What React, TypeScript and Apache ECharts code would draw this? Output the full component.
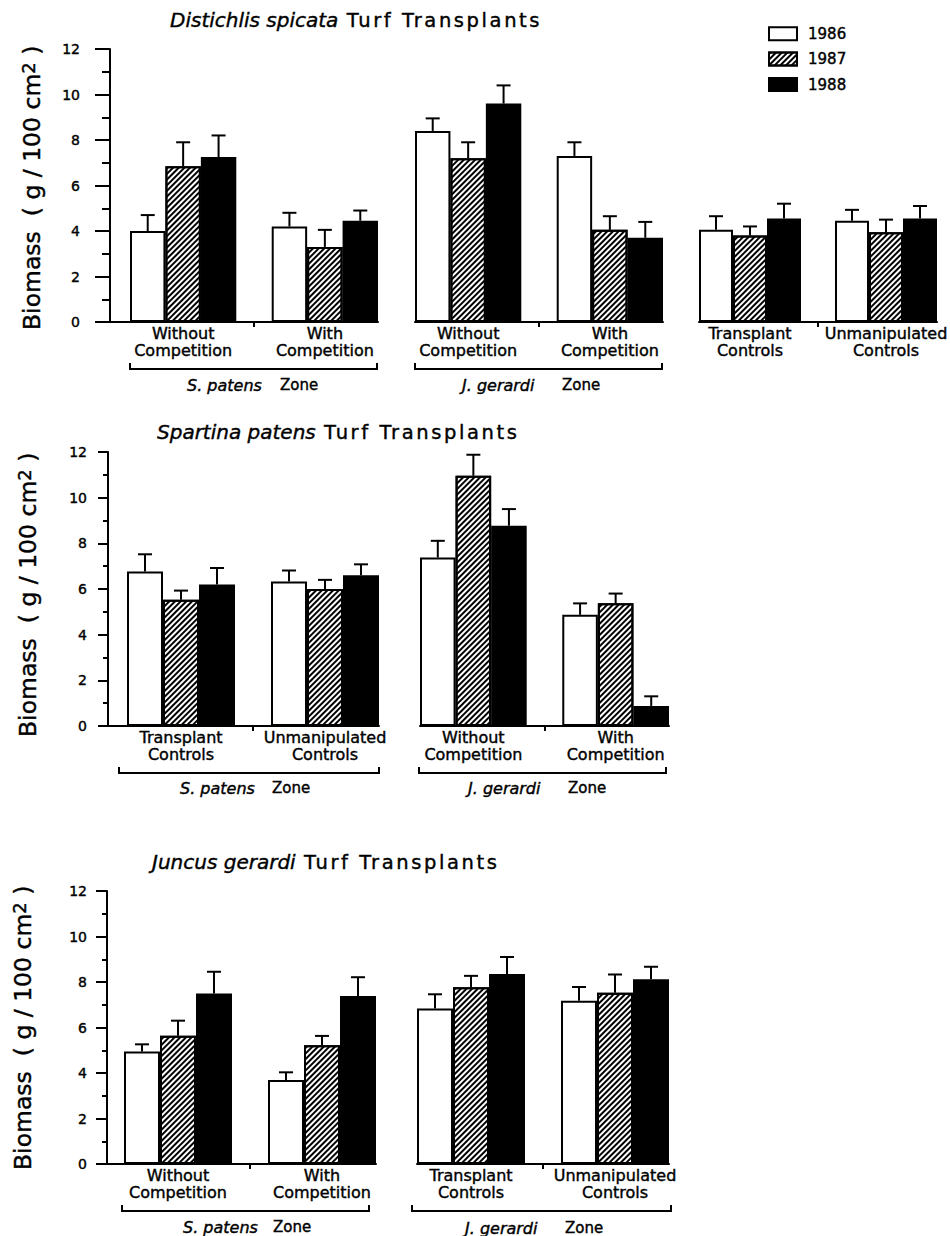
import React, { useEffect, useRef } from 'react';
import * as echarts from 'echarts';

// ---------------- DATA ----------------
const YEARS = ['1986', '1987', '1988'];
const Y_AXIS_TICKS = [0, 2, 4, 6, 8, 10, 12];

const CMP = ['Without\nCompetition', 'With\nCompetition'];
const CTL = ['Transplant\nControls', 'Unmanipulated\nControls'];

// Panel 1: Distichlis spicata (clusters: S.patens W/o, With | J.gerardi W/o, With | Transplant, Unmanipulated)
const P1_SPECIES = 'Distichlis spicata';
const P1_GROUP_LABELS = [CMP, CMP, CTL];
const P1_ZONES = ['S. patens', 'J. gerardi'];
const P1_1986 = [4.0, 4.2, 8.4, 7.3, 4.05, 4.45];
const P1_1987 = [6.85, 3.3, 7.2, 4.05, 3.8, 3.95];
const P1_1988 = [7.25, 4.45, 9.6, 3.7, 4.55, 4.55];
const P1_SE_1986 = [0.7, 0.6, 0.55, 0.6, 0.6, 0.48];
const P1_SE_1987 = [1.05, 0.75, 0.7, 0.6, 0.4, 0.55];
const P1_SE_1988 = [0.95, 0.45, 0.8, 0.7, 0.65, 0.55];

// Panel 2: Spartina patens (clusters: S.patens Transplant, Unmanipulated | J.gerardi W/o, With)
const P2_SPECIES = 'Spartina patens';
const P2_GROUP_LABELS = [CTL, CMP];
const P2_ZONES = ['S. patens', 'J. gerardi'];
const P2_1986 = [6.77, 6.33, 7.38, 4.87];
const P2_1987 = [5.53, 6.0, 10.96, 5.38];
const P2_1988 = [6.2, 6.6, 8.77, 0.88];
const P2_SE_1986 = [0.75, 0.48, 0.73, 0.5];
const P2_SE_1987 = [0.4, 0.4, 0.92, 0.42];
const P2_SE_1988 = [0.72, 0.48, 0.73, 0.42];

// Panel 3: Juncus gerardi (clusters: S.patens W/o, With | J.gerardi Transplant, Unmanipulated)
const P3_SPECIES = 'Juncus gerardi';
const P3_GROUP_LABELS = [CMP, CTL];
const P3_ZONES = ['S. patens', 'J. gerardi'];
const P3_1986 = [4.94, 3.69, 6.84, 7.18];
const P3_1987 = [5.64, 5.22, 7.77, 7.53];
const P3_1988 = [7.5, 7.38, 8.35, 8.12];
const P3_SE_1986 = [0.32, 0.34, 0.62, 0.6];
const P3_SE_1987 = [0.66, 0.41, 0.5, 0.8];
const P3_SE_1988 = [0.95, 0.83, 0.75, 0.55];

// ---------------- LAYOUT / STYLE ----------------
const FONT = 'DejaVu Sans';
const BLACK = '#000';
// slight thickening of text strokes (axis / legend labels)
const BOLDEN = { textBorderColor: BLACK, textBorderWidth: 0.4 };
// same for zrender graphic texts
const GBOLD = { stroke: BLACK, lineWidth: 0.4 };

const PANELS = [
  {
    species: P1_SPECIES, groupLabels: P1_GROUP_LABELS, zones: P1_ZONES,
    means: [P1_1986, P1_1987, P1_1988], ses: [P1_SE_1986, P1_SE_1987, P1_SE_1988],
    layout: {
      axisX: 110, top: 49, zero: 322, groups: [[130, 378], [415, 663], [699, 948]],
      tickLen: 15, minorLen: 8, labelMargin: 30,
      name: [32, 330], title: [170, 20],
      brackets: [[130, 377, 369], [415, 662, 369]],
      zoneText: [[187, 280, 385], [462, 562, 385]],
    },
  },
  {
    species: P2_SPECIES, groupLabels: P2_GROUP_LABELS, zones: P2_ZONES,
    means: [P2_1986, P2_1987, P2_1988], ses: [P2_SE_1986, P2_SE_1987, P2_SE_1988],
    layout: {
      axisX: 108, top: 452, zero: 726, groups: [[127, 379], [420, 669]],
      tickLen: 10, minorLen: 5, labelMargin: 21,
      name: [28, 737], title: [157, 432],
      brackets: [[119, 379, 773], [419, 666, 773]],
      zoneText: [[180, 272, 788], [468, 568, 788]],
    },
  },
  {
    species: P3_SPECIES, groupLabels: P3_GROUP_LABELS, zones: P3_ZONES,
    means: [P3_1986, P3_1987, P3_1988], ses: [P3_SE_1986, P3_SE_1987, P3_SE_1988],
    layout: {
      axisX: 107, top: 891, zero: 1164, groups: [[124, 376], [417, 669]],
      tickLen: 11, minorLen: 5, labelMargin: 20,
      name: [23, 1170], title: [152, 862],
      brackets: [[122, 369, 1211], [412, 671, 1211]],
      zoneText: [[183, 273, 1227], [465, 565, 1228]],
    },
  },
];

const HATCH = {
  symbol: 'rect',
  symbolSize: 1,
  color: BLACK,
  dashArrayX: [1, 0],
  dashArrayY: [1.5, 1.5],
  rotation: -Math.PI / 4,
};

const YEAR_STYLES = [
  { color: '#fff', borderColor: BLACK, borderWidth: 2 },
  { color: '#fff', borderColor: BLACK, borderWidth: 2, decal: HATCH },
  { color: BLACK, borderColor: BLACK, borderWidth: 2 },
];

const SLOTS = ['s0', 's1', 's2', 's3', 's4', 's5', 's6'];

function buildOption() {
  const grid: any[] = [];
  const xAxis: any[] = [];
  const yAxis: any[] = [];
  const series: any[] = [];
  const graphic: any[] = [];
  const line = { color: BLACK, width: 2 };

  PANELS.forEach((p) => {
    const L = p.layout;
    const h = L.zero - L.top;
    // y-axis grid
    const gi = grid.length;
    grid.push({ left: L.axisX, top: L.top, width: L.groups[0][0] - L.axisX, height: h });
    xAxis.push({
      gridIndex: gi, type: 'category', data: ['_'],
      axisLine: { show: true, lineStyle: line }, axisTick: { show: false }, axisLabel: { show: false },
    });
    yAxis.push({
      gridIndex: gi, type: 'value', min: Y_AXIS_TICKS[0], max: Y_AXIS_TICKS[Y_AXIS_TICKS.length - 1], interval: 2,
      axisLine: { show: true, lineStyle: line },
      axisTick: { show: true, length: L.tickLen, lineStyle: line },
      minorTick: { show: true, splitNumber: 2, length: L.minorLen, lineStyle: line },
      splitLine: { show: false }, minorSplitLine: { show: false },
      axisLabel: { margin: L.labelMargin, fontSize: 14, fontFamily: FONT, color: BLACK, ...BOLDEN },
    });

    L.groups.forEach((g, k) => {
      const idx = grid.length;
      grid.push({ left: g[0], top: L.top, width: g[1] - g[0], height: h });
      const labels = ['', p.groupLabels[k][0], '', '', '', p.groupLabels[k][1], ''];
      xAxis.push({
        gridIndex: idx, type: 'category', data: SLOTS,
        axisLine: { show: true, lineStyle: line },
        axisTick: { show: true, interval: (i: number) => i === 3, alignWithLabel: true, length: 5, lineStyle: line },
        axisLabel: {
          interval: 0, margin: 3, fontSize: 16, lineHeight: 17, fontFamily: FONT, color: BLACK, ...BOLDEN,
          formatter: (_v: string, i: number) => labels[i],
        },
      });
      yAxis.push({ gridIndex: idx, type: 'value', min: 0, max: 12, show: false });

      const errData: any[] = [];
      YEARS.forEach((yr, y) => {
        const data: (number | null)[] = SLOTS.map(() => null);
        const c0 = k * 2, c1 = k * 2 + 1;
        data[y] = p.means[y][c0];
        data[4 + y] = p.means[y][c1];
        errData.push([y, p.means[y][c0], p.means[y][c0] + p.ses[y][c0]]);
        errData.push([4 + y, p.means[y][c1], p.means[y][c1] + p.ses[y][c1]]);
        series.push({
          type: 'bar', name: yr, xAxisIndex: idx, yAxisIndex: idx, data,
          barWidth: '100%', barGap: '-100%', itemStyle: YEAR_STYLES[y], silent: true,
        });
      });
      series.push({
        type: 'custom', name: 'SE', xAxisIndex: idx, yAxisIndex: idx, data: errData, silent: true, z: 5,
        encode: { x: 0, y: [1, 2] },
        renderItem: (_params: any, api: any) => {
          const x = api.value(0);
          const a = api.coord([x, api.value(1)]);
          const b = api.coord([x, api.value(2)]);
          const cap = 7;
          return {
            type: 'group',
            children: [
              { type: 'line', shape: { x1: a[0], y1: a[1], x2: b[0], y2: b[1] }, style: { stroke: BLACK, lineWidth: 2 } },
              { type: 'line', shape: { x1: b[0] - cap, y1: b[1], x2: b[0] + cap, y2: b[1] }, style: { stroke: BLACK, lineWidth: 2 } },
            ],
          };
        },
      });
    });

    // title
    graphic.push({
      type: 'text', x: L.title[0], y: L.title[1], silent: true,
      style: {
        text: `{i|${p.species}} {n|Turf Transplants}`,
        align: 'left', verticalAlign: 'middle',
        rich: {
          i: { fontSize: 20, fontFamily: FONT, fontStyle: 'italic', fill: BLACK, ...GBOLD },
          n: { fontSize: 19.5, fontFamily: FONT, fill: BLACK, padding: [0, 0, 0, 5], ...GBOLD },
        },
      },
    });
    // y axis name
    graphic.push({
      type: 'text', x: L.name[0], y: L.name[1], rotation: Math.PI / 2, silent: true,
      style: {
        text: '{a|Biomass  ( g / 100 cm}{s|2}{a| )}',
        align: 'left', verticalAlign: 'middle',
        rich: {
          a: { fontSize: 23.5, fontFamily: FONT, fill: BLACK, lineHeight: 26, ...GBOLD },
          s: { fontSize: 18, fontFamily: FONT, fill: BLACK, lineHeight: 18, verticalAlign: 'top', ...GBOLD },
        },
      },
    });
    // brackets + zone labels
    L.brackets.forEach((b, k) => {
      graphic.push({
        type: 'polyline', silent: true,
        shape: { points: [[b[0], b[2] - 6], [b[0], b[2]], [b[1], b[2]], [b[1], b[2] - 6]] },
        style: { stroke: BLACK, lineWidth: 2, fill: null },
      });
      const z = L.zoneText[k];
      graphic.push({
        type: 'text', x: z[0], y: z[2], silent: true,
        style: { text: p.zones[k], fontSize: 16, fontFamily: FONT, fontStyle: 'italic', fill: BLACK, ...GBOLD,
          align: 'left', verticalAlign: 'middle' },
      });
      graphic.push({
        type: 'text', x: z[1], y: z[2], silent: true,
        style: { text: 'Zone', fontSize: 15, fontFamily: FONT, fill: BLACK, ...GBOLD,
          align: 'left', verticalAlign: 'middle' },
      });
    });
  });

  return {
    animation: false,
    backgroundColor: '#fff',
    legend: {
      data: YEARS, orient: 'vertical', left: 768, top: 26, padding: 0, itemWidth: 28, itemHeight: 13, itemGap: 10,
      icon: 'rect', selectedMode: false,
      textStyle: { fontSize: 15, fontFamily: FONT, color: BLACK, lineHeight: 13, padding: [0, 0, 0, 6], ...BOLDEN },
    },
    grid, xAxis, yAxis, series, graphic,
  };
}

export default function App() {
  const ref = useRef<HTMLDivElement>(null);
  useEffect(() => {
    if (!ref.current) return;
    const chart = echarts.init(ref.current, undefined, { renderer: 'svg' });
    chart.setOption(buildOption() as any);
    return () => chart.dispose();
  }, []);
  return (
    <>
      <style>{'#root text[style*="19.5px"]{letter-spacing:2.6px}'}</style>
      <div ref={ref} style={{ position: 'absolute', left: 0, top: 0, width: 950, height: 1236 }} />
    </>
  );
}
